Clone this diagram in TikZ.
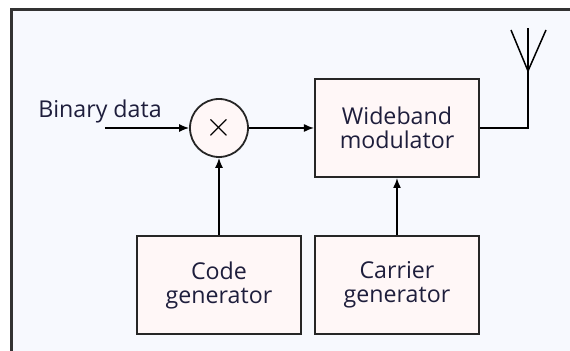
\documentclass[tikz,border=0pt]{standalone}
\usepackage{fontspec}
\setmainfont{Open Sans}
\usetikzlibrary{arrows.meta,positioning}
\definecolor{framebg}{HTML}{F7F9FE}
\definecolor{boxfill}{HTML}{FFF7F7}
\definecolor{ink}{HTML}{1E1E3C}
\tikzset{
block/.style = {draw=black!85, fill=boxfill, line width=1pt, rectangle, minimum height=49pt, minimum width=82pt, align=center, text=ink},
tmp/.style  = {coordinate},
mult/.style = {draw=black!85, fill=boxfill, line width=0.9pt, circle, minimum size=29pt, inner sep=0pt},
input/.style = {coordinate},
lbl/.style = {text=ink, inner sep=0pt}
}
\begin{document}
\begin{tikzpicture}[x=0.5pt, y=-0.5pt, node distance=2cm, >={Latex[length=5pt,width=4pt]},
  line width=0.75pt, font=\fontsize{11.6}{12}\selectfont]
  \useasboundingbox (0,0) rectangle (570,351);
  % frame
  \fill [framebg] (11.5,9.5) rectangle (570,351);
  \draw [line width=1.2pt, black!80] (11.5,351) -- (11.5,9.5) -- (570,9.5);

  \node [mult] at (219,128)                                (mult)     {\fontsize{16}{16}\selectfont$\times$};
  \node [input, left of=mult, node distance=57pt]          (rinput)   {};
  \node [block, right of=mult, node distance=89pt]         (modul)    {Wideband\\modulator};
  \node [block, below of=mult, node distance=78.5pt]       (codegen)  {Code\\generator};
  \node [block, below of=modul, node distance=78.5pt]      (carrgen)  {Carrier\\generator};
  \node [tmp, right of=modul, node distance=65.5pt]        (tmp1)     {};
  \node [tmp, above of=tmp1, node distance=28.5pt]         (tmp2)     {};
  \node [tmp, above of=tmp2, node distance=21.5pt]         (antop)    {};
  \node [tmp] at (511,30)                                  (armL)     {};
  \node [tmp] at (546,30)                                  (armR)     {};
  \node [lbl, anchor=base] at (100,118)                    (datalbl)  {Binary data};

  \draw [->] (rinput) -- (mult);
  \draw [->] (mult) -- (modul);
  \draw (modul) -- (tmp1) -- (antop);
  \draw (armL) -- (tmp2) -- (armR);
  \draw [->] (codegen) -- (mult);
  \draw [->] (carrgen) -- (modul);
\end{tikzpicture}
\end{document}
